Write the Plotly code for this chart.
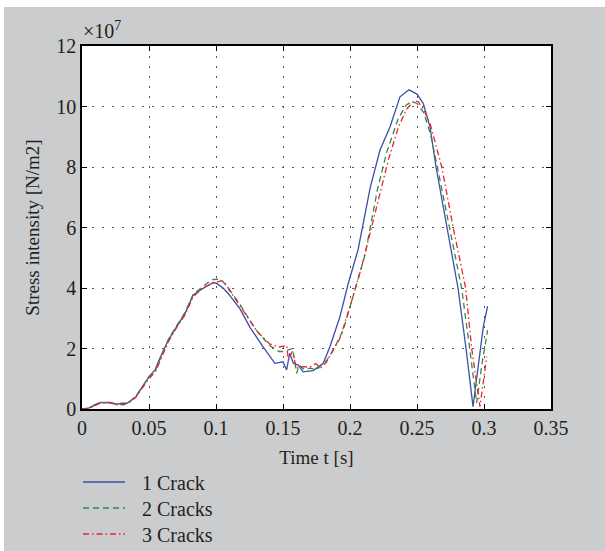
import plotly.graph_objects as go

# ---- data (stress intensity in units of 1e7 N/m2) ----
t_1crack = [0, 0.005, 0.010, 0.0134, 0.021, 0.026, 0.030, 0.0336, 0.040, 0.046, 0.050, 0.0545,
            0.058, 0.0644, 0.0706, 0.0769, 0.083, 0.0905, 0.098, 0.1005, 0.1055, 0.110, 0.118,
            0.1254, 0.135, 0.144, 0.150, 0.1527, 0.155, 0.1577, 0.1614, 0.165, 0.1726, 0.180,
            0.185, 0.1925, 0.1987, 0.206, 0.215, 0.2224, 0.2299, 0.2373, 0.244, 0.250, 0.2547,
            0.2597, 0.2642, 0.2724, 0.2806, 0.2866, 0.2918, 0.2995, 0.3027]
s_1crack = [0, 0.03, 0.15, 0.21, 0.22, 0.16, 0.19, 0.19, 0.39, 0.79, 1.07, 1.29,
            1.67, 2.28, 2.72, 3.16, 3.77, 3.99, 4.18, 4.15, 3.99, 3.77, 3.30,
            2.70, 2.06, 1.51, 1.56, 1.29, 1.84, 1.51, 1.45, 1.23, 1.27, 1.51,
            2.06, 3.05, 4.15, 5.26, 7.30, 8.56, 9.33, 10.32, 10.55, 10.41, 10.10,
            9.33, 8.00, 6.00, 4.00, 2.00, 0.08, 2.72, 3.40]

t_2cracks = [0, 0.005, 0.010, 0.014, 0.021, 0.026, 0.031, 0.035, 0.040, 0.046, 0.050, 0.055,
             0.058, 0.0644, 0.0706, 0.077, 0.083, 0.090, 0.097, 0.101, 0.105, 0.110, 0.118,
             0.125, 0.131, 0.140, 0.147, 0.150, 0.154, 0.1572, 0.1602, 0.162, 0.166, 0.170,
             0.175, 0.1825, 0.187, 0.195, 0.200, 0.205, 0.2112, 0.2207, 0.2275, 0.236, 0.242,
             0.246, 0.250, 0.255, 0.260, 0.2652, 0.2745, 0.2833, 0.2893, 0.2945, 0.2985, 0.3027]
s_2cracks = [0, 0.02, 0.14, 0.22, 0.20, 0.15, 0.14, 0.22, 0.42, 0.80, 1.05, 1.30,
             1.62, 2.30, 2.75, 3.20, 3.80, 4.05, 4.28, 4.29, 4.22, 3.95, 3.45,
             2.95, 2.55, 2.10, 1.90, 1.90, 1.95, 2.00, 1.18, 1.45, 1.30, 1.35,
             1.30, 1.60, 1.90, 2.61, 3.38, 4.15, 5.09, 7.30, 8.50, 9.60, 10.05,
             10.16, 10.10, 9.80, 9.10, 8.00, 6.00, 4.00, 2.00, 0.20, 1.50, 2.61]

t_3cracks = [0, 0.005, 0.010, 0.014, 0.021, 0.026, 0.031, 0.035, 0.040, 0.046, 0.050, 0.055,
             0.058, 0.0644, 0.0706, 0.077, 0.083, 0.090, 0.097, 0.104, 0.108, 0.110, 0.118,
             0.125, 0.131, 0.140, 0.147, 0.1528, 0.154, 0.157, 0.160, 0.165, 0.170, 0.1745,
             0.178, 0.1825, 0.186, 0.1925, 0.200, 0.2087, 0.216, 0.2236, 0.2286, 0.236, 0.242,
             0.248, 0.251, 0.255, 0.260, 0.2685, 0.2770, 0.2863, 0.2908, 0.297, 0.300, 0.302]
s_3cracks = [0, 0.01, 0.12, 0.20, 0.21, 0.14, 0.16, 0.20, 0.38, 0.75, 1.00, 1.25,
             1.58, 2.22, 2.70, 3.12, 3.72, 4.00, 4.15, 4.24, 4.10, 3.93, 3.40,
             2.95, 2.55, 2.15, 2.05, 2.10, 1.62, 1.90, 1.35, 1.40, 1.38, 1.50,
             1.35, 1.55, 1.85, 2.34, 3.38, 4.70, 6.00, 7.30, 8.23, 9.30, 9.90,
             10.20, 10.15, 9.90, 9.40, 8.00, 6.00, 4.00, 2.00, 0.08, 1.00, 1.73]

series_names = ["1 Crack", "2 Cracks", "3 Cracks"]

x_tickvals = [0, 0.05, 0.1, 0.15, 0.2, 0.25, 0.3, 0.35]
x_ticktext = ["0", "0.05", "0.1", "0.15", "0.2", "0.25", "0.3", "0.35"]
y_tickvals = [0, 2, 4, 6, 8, 10, 12]
y_ticktext = ["0", "2", "4", "6", "8", "10", "12"]

FONT = "Liberation Serif"
TXT = "#231f20"
GRAY = "#cbcccd"

styles = [
    dict(color="#3b4fa6", width=1.3),
    dict(color="#2e8b4a", width=1.3, dash="6px,4px"),
    dict(color="#ee2028", width=1.3, dash="6px,3px,1.5px,3px"),
]
xs = [t_1crack, t_2cracks, t_3cracks]
ys = [s_1crack, s_2cracks, s_3cracks]

fig = go.Figure()
for x, y, name, st in zip(xs, ys, series_names, styles):
    fig.add_trace(go.Scatter(x=x, y=y, mode="lines", name=name, line=st, showlegend=False))

axis_common = dict(
    showline=True, linecolor="black", linewidth=1.5, mirror="ticks",
    ticks="inside", ticklen=5, tickcolor="black", tickwidth=1,
    showgrid=True, gridcolor="#555555", gridwidth=1, griddash="1.5px,8.5px",
    zeroline=False, tickfont=dict(family=FONT, size=20, color=TXT),
)

fig.update_xaxes(range=[0, 0.35], tickvals=x_tickvals, ticktext=x_ticktext,
                 title=dict(text="Time t [s]", font=dict(family=FONT, size=19, color=TXT),
                            standoff=13),
                 **axis_common)
fig.update_yaxes(range=[0, 12], tickvals=y_tickvals, ticktext=y_ticktext,
                 title=dict(text="Stress intensity [N/m2]",
                            font=dict(family=FONT, size=19, color=TXT), standoff=12),
                 **axis_common)

W, H = 605, 551
L, R, T, B = 82, 54, 46, 142
pw, ph = W - L - R, H - T - B

def px2paper_x(px):
    return (px - L) / pw

def px2paper_y(py):
    return (H - B - py) / ph

shapes = [
    dict(type="rect", xref="paper", yref="paper", layer="below",
         x0=px2paper_x(-5), x1=px2paper_x(W + 5), y0=px2paper_y(7), y1=px2paper_y(-5),
         fillcolor="white", line=dict(width=0)),
    dict(type="rect", xref="paper", yref="paper", layer="below",
         x0=px2paper_x(-5), x1=px2paper_x(4), y0=px2paper_y(H + 5), y1=px2paper_y(-5),
         fillcolor="white", line=dict(width=0)),
]
annotations = [
    dict(text="×10<sup>7</sup>", xref="paper", yref="paper",
         x=px2paper_x(81), y=px2paper_y(44), xanchor="left", yanchor="bottom",
         showarrow=False, font=dict(family=FONT, size=20, color=TXT)),
]

# legend drawn below the axes (key line + label per series)
legend_rows_px = [482, 508, 534]
for name, st, ypx in zip(series_names, styles, legend_rows_px):
    shapes.append(dict(type="line", xref="paper", yref="paper",
                       x0=px2paper_x(83), x1=px2paper_x(125),
                       y0=px2paper_y(ypx), y1=px2paper_y(ypx), line=st))
    annotations.append(dict(text=name, xref="paper", yref="paper",
                            x=px2paper_x(140), y=px2paper_y(ypx + 1),
                            xanchor="left", yanchor="middle", showarrow=False,
                            font=dict(family=FONT, size=20, color=TXT)))

fig.update_layout(
    width=W, height=H,
    margin=dict(l=L, r=R, t=T, b=B, pad=0),
    paper_bgcolor=GRAY, plot_bgcolor="white",
    font=dict(family=FONT, color=TXT),
    showlegend=False,
    shapes=shapes,
    annotations=annotations,
)

fig.write_html("out.html")
